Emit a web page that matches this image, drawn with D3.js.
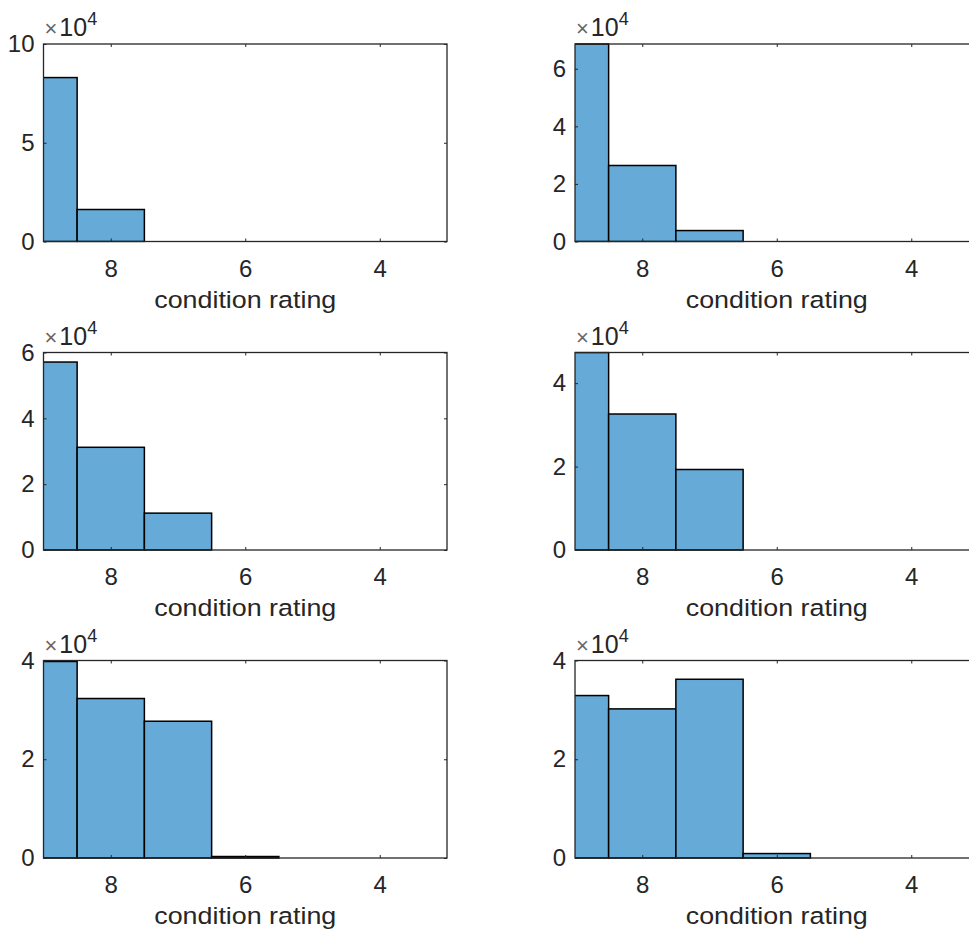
<!DOCTYPE html>
<html>
<head>
<meta charset="utf-8">
<script src="https://cdn.jsdelivr.net/npm/d3@7"></script>
<style>
  html, body { margin: 0; padding: 0; background: #fff; }
  svg { display: block; }
  text { font-family: "Liberation Sans", Arial, Helvetica, sans-serif; fill: #262626; }
</style>
</head>
<body>
<svg id="fig" width="969" height="929"></svg>
<script>
// Condition rating bins (bin centres, bin width 1)
const ratings = [9, 8, 7, 6, 5, 4, 3];

// Counts per rating for each of the six panels
const countsA = [83000, 16200, 0, 0, 0, 0, 0];
const countsB = [68600, 26400, 3800, 0, 0, 0, 0];
const countsC = [57100, 31200, 11200, 0, 0, 0, 0];
const countsD = [47350, 32600, 19300, 0, 0, 0, 0];
const countsE = [39800, 32300, 27700, 300, 0, 0, 0];
const countsF = [32900, 30200, 36200, 900, 0, 0, 0];

// Y-axis upper limits and tick values (in units of 10^4)
const yMaxes = [10, 6.86, 6, 4.735, 4, 4];
const yTickSets = [[0, 5, 10], [0, 2, 4, 6], [0, 2, 4, 6], [0, 2, 4], [0, 2, 4], [0, 2, 4]];

// X-axis ticks and limits (axis runs from 9 on the left down to 3)
const xTicks = [8, 6, 4];
const xDomain = [9, 3];
const xLabel = "condition rating";

const panels = [countsA, countsB, countsC, countsD, countsE, countsF];

const svg = d3.select("#fig");

const colLeft = [43.5, 575];
const rowTop = [44, 352.5, 660.5];
const W = 403.5, H = 197.5;
const barFill = "#66aad7";
const ink = "#262626";
const tickLen = 3;

panels.forEach((counts, i) => {
  const col = i % 2, row = Math.floor(i / 2);
  const g = svg.append("g")
    .attr("transform", `translate(${colLeft[col]},${rowTop[row]})`);

  const x = d3.scaleLinear().domain(xDomain).range([0, W]);
  const y = d3.scaleLinear().domain([0, yMaxes[i]]).range([H, 0]);

  const clipId = "clip" + i;
  g.append("clipPath").attr("id", clipId)
    .append("rect").attr("x", 0).attr("y", -1).attr("width", W).attr("height", H + 2);

  // histogram bars
  g.append("g").attr("clip-path", `url(#${clipId})`)
    .selectAll("rect")
    .data(ratings.map((r, k) => ({ r, v: counts[k] / 1e4 })).filter(d => d.v > 0))
    .join("rect")
    .attr("x", d => x(d.r + 0.5))
    .attr("width", d => x(d.r - 0.5) - x(d.r + 0.5))
    .attr("y", d => y(Math.min(d.v, yMaxes[i])))
    .attr("height", d => H - y(Math.min(d.v, yMaxes[i])))
    .attr("fill", barFill)
    .attr("stroke", "#000")
    .attr("stroke-width", 1.5);

  // box
  g.append("rect")
    .attr("width", W).attr("height", H)
    .attr("fill", "none").attr("stroke", ink).attr("stroke-width", 1.3);

  // bottom axis (ticks pointing inward)
  const xb = g.append("g").attr("transform", `translate(0,${H})`)
    .call(d3.axisBottom(x).tickValues(xTicks).tickSizeInner(-tickLen).tickSizeOuter(0).tickPadding(18).tickFormat(d3.format("d")));
  // top axis ticks
  const xt = g.append("g")
    .call(d3.axisTop(x).tickValues(xTicks).tickSizeInner(-tickLen).tickSizeOuter(0).tickFormat(""));
  // left axis
  const yl = g.append("g")
    .call(d3.axisLeft(y).tickValues(yTickSets[i]).tickSizeInner(-tickLen).tickSizeOuter(0).tickPadding(9).tickFormat(d3.format("d")));
  // right axis ticks
  const yr = g.append("g").attr("transform", `translate(${W},0)`)
    .call(d3.axisRight(y).tickValues(yTickSets[i]).tickSizeInner(-tickLen).tickSizeOuter(0).tickFormat(""));

  [xb, xt, yl, yr].forEach(a => {
    a.select(".domain").remove();
    a.selectAll(".tick line").attr("stroke", ink).attr("stroke-width", 1);
    a.selectAll(".tick text").attr("fill", ink).style("font-size", "24px")
      .attr("font-family", null);
  });
  xb.selectAll(".tick text").attr("dy", "0.71em");

  // exponent label
  const ex = g.append("text")
    .attr("x", 1).attr("y", -8)
    .style("font-size", "25px");
  ex.append("tspan").text("×").style("font-size", "22px").attr("fill", "#666");
  ex.append("tspan").text("10").attr("dx", 2);
  ex.append("tspan").text("4").attr("dy", -11).style("font-size", "18px");

  // x label
  g.append("text")
    .attr("x", W / 2).attr("y", H + 66)
    .attr("text-anchor", "middle")
    .attr("textLength", 182)
    .attr("lengthAdjust", "spacingAndGlyphs")
    .style("font-size", "24.5px")
    .text(xLabel);
});
</script>
</body>
</html>
